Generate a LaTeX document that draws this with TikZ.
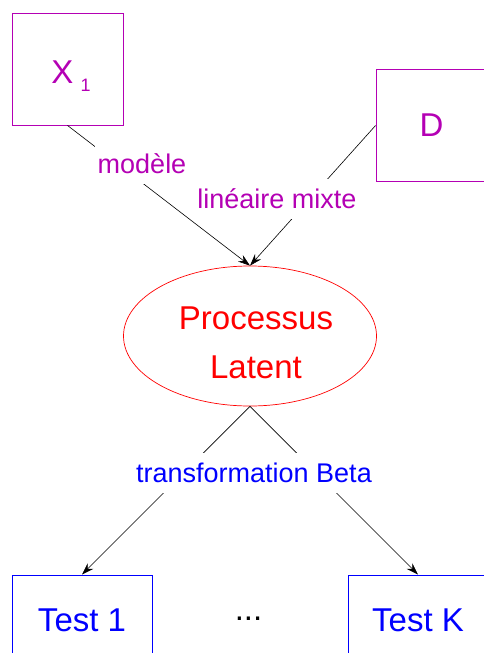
\documentclass[tikz,border=0pt]{standalone}
\usepackage{fontspec}
\setmainfont{Liberation Sans}
\usepackage{tikz}
\usetikzlibrary{arrows.meta,shapes.geometric}

\definecolor{xmagenta}{RGB}{180,0,180}

\begin{document}
\begin{tikzpicture}[x=1pt,y=-1pt,->,>={Stealth[length=12pt,width=8pt,inset=4pt]},semithick,
    box/.style={draw,rectangle,inner sep=0pt,line width=0.9pt},
    src/.style={box,xmagenta,minimum width=111pt,minimum height=112pt},
    test/.style={box,blue,minimum width=140pt,minimum height=90pt},
    lab/.style={fill=white,inner xsep=3pt,inner ysep=10pt,font=\fontsize{27}{32}\selectfont},
    big/.style={font=\fontsize{33}{49}\selectfont}]
      \useasboundingbox (0,0) rectangle (483,653);

      \node[ellipse,draw=red,text=red,big,align=center,minimum width=253pt,minimum height=140pt,line width=0.7pt] (proc) at (250,336) {\rule{0pt}{36pt}\hspace*{12pt}Processus\\\hspace*{12pt}Latent};
      \node[src,big,text height=36pt,text depth=8pt] (X1) [above of=proc,node distance=267pt,xshift=-182.5pt] {\hspace*{7pt}X\hspace{7pt}\raisebox{-8pt}{\fontsize{18}{18}\selectfont 1}};
      \node[src,big] (D) [above of=proc,node distance=210.5pt,xshift=181.5pt] {D};
      \node[test,big] (test1) [below of=proc,node distance=284pt,xshift=-168pt] {Test 1};
      \node[test,big] (testK) [below of=proc,node distance=284pt,xshift=168pt] {Test K};
      \node[big] (dots) [below of=proc,node distance=283pt,xshift=-1.5pt] {...};

      \path (X1.south) edge (proc.north);
      \path (D.west) edge (proc.north);
      \path (proc.south) edge (test1.north);
      \path (proc.south) edge (testK.north);

      \node[lab,text=xmagenta] (lmodele) at (142,164) {modèle};
      \node[lab,text=xmagenta] (llineaire) at (277,199) {linéaire mixte};
      \node[lab,text=blue] (lbeta) at (254,473) {transformation Beta};

    \end{tikzpicture}
\end{document}
